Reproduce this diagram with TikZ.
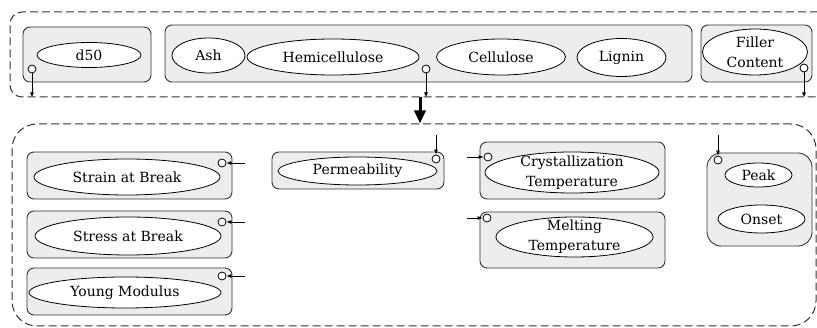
\documentclass[tikz,border=0pt]{standalone}
\usepackage{fontspec}
\setmainfont{DejaVu Serif}
\usepackage{tikz}
\usetikzlibrary{positioning, shapes.geometric, arrows.meta}

\begin{document}
\begin{tikzpicture}[
        x=1pt, y=-1pt,
        every node/.style={font=\fontsize{14}{20}\selectfont, inner sep=0pt},
        group/.style={draw=black!80, dash pattern=on 8pt off 4pt, line width=1pt},
        box/.style={draw=black!80, fill=black!7, rounded corners=7pt, line width=0.9pt},
        var/.style={draw, ellipse, fill=white, align=center, line width=0.8pt},
        vartwo/.style={var, inner ysep=-4pt},
        port/.style={draw, circle, fill=white, minimum size=8pt, line width=0.8pt},
        arrow/.style={-{Latex[length=5pt,width=4pt]}, line width=0.8pt},
        bigarrow/.style={-{Triangle[length=13pt,width=11pt]}, line width=3pt}
    ]
    \useasboundingbox (0,0) rectangle (817,328);

    % Groups
    \node[group, rounded corners=12pt, minimum width=820, minimum height=85] (inputs) at (420,54.5) {};
    \node[group, rounded corners=25pt, minimum width=804, minimum height=202] (outputs) at (414,225) {};

    % Boxes
    \node[box, minimum width=128, minimum height=55] (sizebox) at (87,54.5) {};
    \node[box, minimum width=527, minimum height=57] (compbox) at (428.5,53.5) {};
    \node[box, minimum width=111, minimum height=57] (fillerbox) at (756.5,53.5) {};
    \node[box, minimum width=205, minimum height=47] (strainbox) at (129.5,175.5) {};
    \node[box, minimum width=205, minimum height=47] (stressbox) at (129.5,234.5) {};
    \node[box, minimum width=205, minimum height=47] (youngbox) at (129.5,291.5) {};
    \node[box, minimum width=172, minimum height=37] (permbox) at (358,170.5) {};
    \node[box, minimum width=185, minimum height=57] (crysbox) at (572.5,170.5) {};
    \node[box, minimum width=185, minimum height=56] (meltbox) at (572.5,240) {};
    \node[box, rounded corners=14pt, minimum width=105, minimum height=93] (dscbox) at (759.5,199.5) {};

    % Variables
    \node[var, minimum width=104, minimum height=25] (dfifty) at (89,55) {d50};
    \node[var, minimum width=73, minimum height=35] (ash) at (208.5,55.5) {Ash};
    \node[var, minimum width=172, minimum height=36] (hemi) at (333,57) {Hemicellulose};
    \node[var, minimum width=129, minimum height=36] (cell) at (501,57) {Cellulose};
    \node[var, minimum width=89, minimum height=38] (lignin) at (621.5,57.5) {Lignin};
    \node[vartwo, minimum width=105, minimum height=46] (filler) at (755,52) {Filler\\Content};
    \node[var, minimum width=186, minimum height=36] (strain) at (127,177) {Strain at Break};
    \node[var, minimum width=186, minimum height=38] (stress) at (128,236) {Stress at Break};
    \node[var, minimum width=192, minimum height=31] (young) at (125,292.5) {Young Modulus};
    \node[var, minimum width=159, minimum height=28] (perm) at (357.5,171) {Permeability};
    \node[vartwo, minimum width=174, minimum height=41] (crys) at (572,172.5) {Crystallization\\Temperature};
    \node[vartwo, minimum width=157, minimum height=40] (melt) at (574.5,237) {Melting\\Temperature};
    \node[var, minimum width=67, minimum height=24] (peak) at (758.5,175) {Peak};
    \node[var, minimum width=87, minimum height=28] (onset) at (761.5,219) {Onset};

    % Ports
    \node[port] (psize) at (32,69) {};
    \node[port] (pcomp) at (426,69) {};
    \node[port] (pfiller) at (804,68) {};
    \node[port] (pstrain) at (222,163) {};
    \node[port] (pstress) at (222,222) {};
    \node[port] (pyoung) at (222,276) {};
    \node[port] (pperm) at (436,159) {};
    \node[port] (pcrys) at (488,157) {};
    \node[port] (pmelt) at (487,218) {};
    \node[port] (pdsc) at (718,160) {};

    \coordinate (instrain) at (245,163);
    \coordinate (instress) at (245,222);
    \coordinate (inyoung) at (245,276);
    \coordinate (inperm) at (436,135);
    \coordinate (incrys) at (467,157);
    \coordinate (inmelt) at (467,218);
    \coordinate (indsc) at (718,135);

    % Arrows
    \draw[arrow] (psize) -- (psize |- inputs.south);
    \draw[arrow] (pcomp) -- (pcomp |- inputs.south);
    \draw[arrow] (pfiller) -- (pfiller |- inputs.south);
    \draw[bigarrow] (inputs.south) -- (inputs.south |- outputs.north);
    \draw[arrow] (instrain) -- (pstrain);
    \draw[arrow] (instress) -- (pstress);
    \draw[arrow] (inyoung) -- (pyoung);
    \draw[arrow] (inperm) -- (pperm);
    \draw[arrow] (incrys) -- (pcrys);
    \draw[arrow] (inmelt) -- (pmelt);
    \draw[arrow] (indsc) -- (pdsc);

\end{tikzpicture}
\end{document}
